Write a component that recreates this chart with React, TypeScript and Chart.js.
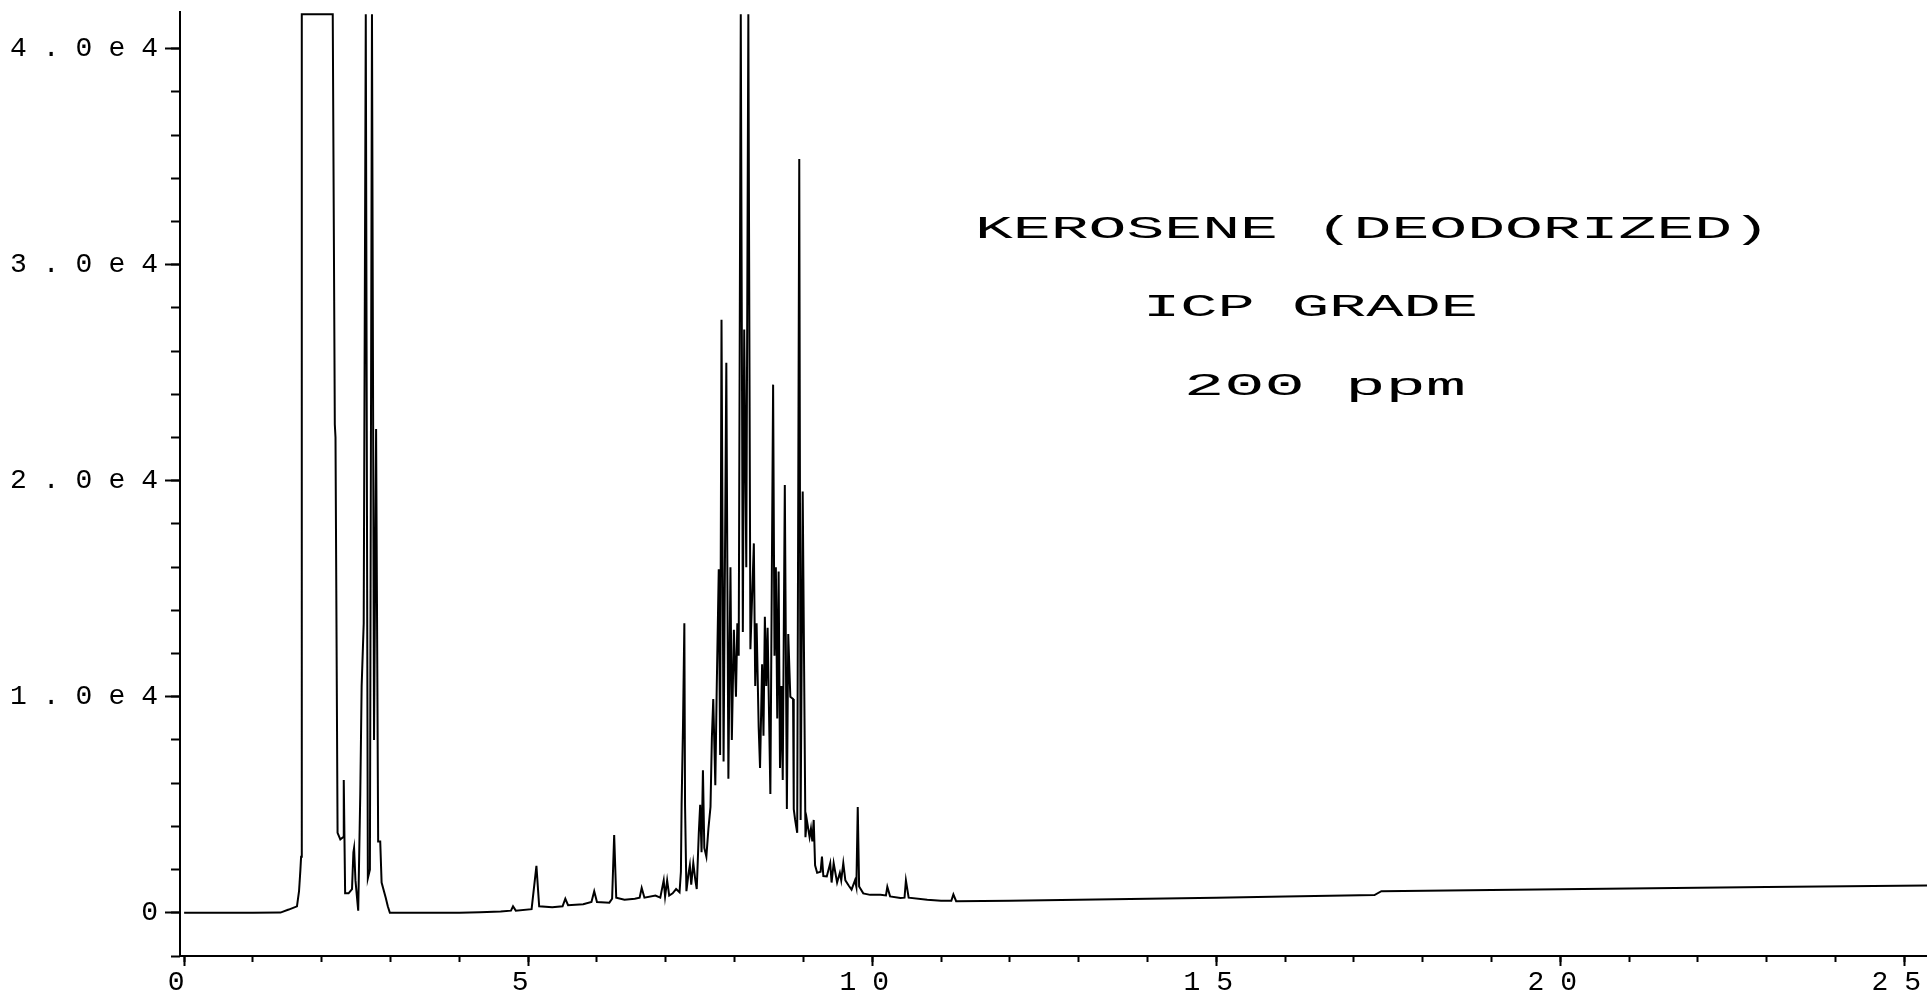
import React, { useEffect, useRef } from 'react';
import { Chart, registerables } from 'chart.js';

Chart.register(...registerables);

// Retention time (min)
const times = [
  0, 1.0, 1.40, 1.52, 1.64, 1.67, 1.69, 1.70, 1.71, 2.16, 2.19, 2.20, 2.23, 2.27, 2.31, 2.32,
  2.34, 2.39, 2.44, 2.46, 2.47, 2.49, 2.53, 2.56, 2.58, 2.61, 2.64, 2.67, 2.70, 2.73, 2.76, 2.79,
  2.82, 2.85, 2.87, 2.93, 2.96, 2.99, 4.0, 4.3, 4.6, 4.75, 4.78, 4.82, 5.05, 5.12, 5.16, 5.35,
  5.5, 5.54, 5.58, 5.8, 5.92, 5.96, 6.0, 6.18, 6.22, 6.25, 6.28, 6.4, 6.55, 6.62, 6.65, 6.69,
  6.85, 6.92, 6.97, 6.99, 7.02, 7.05, 7.10, 7.15, 7.20, 7.22, 7.23, 7.25, 7.27, 7.28, 7.30, 7.33,
  7.35, 7.37, 7.40, 7.43, 7.45, 7.48, 7.50, 7.52, 7.54, 7.56, 7.59, 7.62, 7.65, 7.67, 7.69, 7.72,
  7.74, 7.77, 7.79, 7.81, 7.84, 7.88, 7.91, 7.94, 7.96, 7.99, 8.02, 8.04, 8.06, 8.09, 8.12, 8.14,
  8.17, 8.20, 8.23, 8.28, 8.30, 8.32, 8.35, 8.37, 8.40, 8.42, 8.44, 8.46, 8.48, 8.52, 8.56, 8.58,
  8.60, 8.62, 8.64, 8.66, 8.68, 8.70, 8.73, 8.76, 8.78, 8.81, 8.85, 8.86, 8.88, 8.91, 8.94, 8.96,
  8.99, 9.03, 9.05, 9.09, 9.11, 9.13, 9.15, 9.17, 9.20, 9.25, 9.27, 9.29, 9.34, 9.39, 9.41, 9.44,
  9.49, 9.53, 9.55, 9.58, 9.61, 9.66, 9.70, 9.75, 9.77, 9.79, 9.81, 9.87, 9.97, 10.12, 10.20, 10.22,
  10.26, 10.41, 10.47, 10.49, 10.53, 10.8, 11.0, 11.15, 11.18, 11.22, 12.0, 13.0, 14.0, 15.0, 16.0, 17.3,
  17.4, 19.0, 21.0, 23.0, 25.33,
];

// Detector signal (counts)
const signal = [
  0, 0, 10, 150, 300, 1000, 2000, 2600, 41600, 41600, 22600, 22000, 3700, 3400, 3500, 6150,
  900, 900, 1100, 2800, 3000, 1500, 100, 5500, 10500, 13400, 41600, 1600, 2000, 41600, 8000, 22400,
  3300, 3300, 1400, 700, 300, 0, 0, 30, 60, 100, 300, 100, 170, 2170, 300, 260,
  300, 650, 350, 400, 500, 1000, 500, 470, 650, 3600, 700, 600, 650, 700, 1150, 700,
  800, 700, 1500, 750, 1500, 800, 900, 1100, 950, 1900, 5000, 8600, 13400, 5000, 1000, 1800,
  2200, 1300, 2300, 1500, 1100, 3700, 5000, 2800, 6600, 3000, 2600, 3900, 4900, 8100, 9900, 5900,
  10300, 15900, 7300, 27450, 7000, 25460, 6200, 16000, 8000, 13100, 10000, 13400, 11900, 41600, 13000, 27000,
  16000, 41600, 12200, 17100, 10500, 13400, 8600, 6700, 11500, 8200, 13700, 10500, 13200, 5500, 24450, 11900,
  16000, 9000, 15800, 6700, 10500, 6150, 19800, 4800, 12900, 10000, 9900, 4800, 4300, 3700, 34900, 4300,
  19500, 3500, 4300, 3500, 3900, 3300, 4300, 2200, 1850, 1900, 2600, 1700, 1680, 2300, 1400, 2300,
  1400, 1850, 1500, 2300, 1500, 1250, 1070, 1500, 1200, 4900, 1220, 900, 830, 830, 800, 1200,
  760, 680, 700, 1500, 700, 600, 560, 560, 850, 540, 560, 600, 650, 700, 760, 820,
  1000, 1050, 1120, 1190, 1260,
];

const xMajorTicks = [0, 5, 10, 15, 20, 25];
const xTickLabels = ['0', '5', '10', '15', '20', '25'];
const xMinorTicks = [
  0, 1, 2, 3, 4, 5, 6, 7, 8, 9, 10, 11, 12, 13, 14, 15, 16, 17, 18, 19, 20, 21, 22, 23, 24, 25,
];
const yMajorTicks = [0, 10000, 20000, 30000, 40000];
const yTickLabels = ['0', '1.0e4', '2.0e4', '3.0e4', '4.0e4'];
const yMinorTicks = [
  -2000, 0, 2000, 4000, 6000, 8000, 10000, 12000, 14000, 16000, 18000, 20000,
  22000, 24000, 26000, 28000, 30000, 32000, 34000, 36000, 38000, 40000,
];
const annotationLines = ['KEROSENE (DEODORIZED)', 'ICP GRADE', '200 ppm'];

const X_MIN = -0.06;
const X_MAX = 25.33;
const Y_MIN = -2000;
const Y_MAX = 41700;

const FONT = '"Liberation Mono", "DejaVu Sans Mono", monospace';

// layout of the annotation text (pixels): left, right, baseline
const annotationBoxes = [
  { left: 975, right: 1770, base: 238 },
  { left: 1143, right: 1478, base: 316 },
  { left: 1184, right: 1466, base: 395 },
];

const spacingPlugin = {
  id: 'tickSpacing',
  beforeDraw(chart: any) {
    chart.ctx.letterSpacing = '16px';
  },
  afterDraw(chart: any) {
    chart.ctx.letterSpacing = '0px';
  },
};

const annotationPlugin = {
  id: 'annotationText',
  afterDraw(chart: any) {
    const ctx = chart.ctx;
    annotationLines.forEach((text, i) => {
      const b = annotationBoxes[i];
      ctx.save();
      ctx.letterSpacing = '0px';
      ctx.font = `32px ${FONT}`;
      ctx.fillStyle = '#000';
      ctx.textAlign = 'left';
      ctx.textBaseline = 'alphabetic';
      const w = ctx.measureText(text).width;
      const sx = (b.right - b.left) / w;
      ctx.translate(b.left, b.base);
      ctx.scale(sx, 1);
      ctx.fillText(text, 0, 0);
      ctx.restore();
    });
  },
};

const setTicks = (values: number[]) => (scale: any) => {
  scale.ticks = values.map((v) => ({ value: v }));
};

export default function App() {
  const ref = useRef<HTMLCanvasElement | null>(null);

  useEffect(() => {
    document.body.style.margin = '0';
    const canvas = ref.current;
    if (!canvas) return;
    const points = times.map((t, i) => ({ x: t, y: signal[i] }));
    const tickFont = { family: FONT, size: 28 };
    const tickGrid = (len: number) => ({
      display: true,
      drawOnChartArea: false,
      drawTicks: true,
      tickLength: len,
      tickWidth: 2,
      tickColor: '#000',
    });
    const chart = new Chart(canvas, {
      type: 'line',
      data: {
        datasets: [
          {
            data: points,
            borderColor: '#000',
            borderWidth: 2,
            pointRadius: 0,
            fill: false,
            tension: 0,
          },
        ],
      },
      options: {
        animation: false,
        responsive: false,
        events: [],
        layout: { padding: { top: 12, left: 0, right: 0, bottom: 0 }, autoPadding: false },
        plugins: {
          legend: { display: false },
          tooltip: { enabled: false },
          title: { display: false },
        },
        scales: {
          x: {
            type: 'linear',
            position: 'bottom',
            weight: 1,
            min: X_MIN,
            max: X_MAX,
            border: { display: true, color: '#000', width: 2 },
            grid: tickGrid(10),
            afterBuildTicks: setTicks(xMajorTicks),
            ticks: {
              autoSkip: false,
              maxRotation: 0,
              minRotation: 0,
              padding: 0,
              color: '#000',
              font: tickFont,
              callback: (v: any) => {
                const i = xMajorTicks.indexOf(Number(v));
                return i >= 0 ? xTickLabels[i] : '';
              },
            },
            afterFit: (s: any) => { s.height = 40; },
          },
          x2: {
            type: 'linear',
            position: 'bottom',
            weight: 0,
            min: X_MIN,
            max: X_MAX,
            border: { display: false },
            grid: tickGrid(6),
            afterBuildTicks: setTicks(xMinorTicks),
            ticks: { autoSkip: false, maxRotation: 0, callback: () => '' },
            afterFit: (s: any) => { s.height = 0; },
          },
          y: {
            type: 'linear',
            position: 'left',
            weight: 1,
            min: Y_MIN,
            max: Y_MAX,
            border: { display: true, color: '#000', width: 2 },
            grid: tickGrid(15),
            afterBuildTicks: setTicks(yMajorTicks),
            ticks: {
              autoSkip: false,
              padding: -9,
              color: '#000',
              font: tickFont,
              callback: (v: any) => {
                const i = yMajorTicks.indexOf(Number(v));
                return i >= 0 ? yTickLabels[i] : '';
              },
            },
            afterFit: (s: any) => { s.width = 180; },
          },
          y2: {
            type: 'linear',
            position: 'left',
            weight: 0,
            min: Y_MIN,
            max: Y_MAX,
            border: { display: false },
            grid: tickGrid(9),
            afterBuildTicks: setTicks(yMinorTicks),
            ticks: { autoSkip: false, callback: () => '' },
            afterFit: (s: any) => { s.width = 0; },
          },
        },
      } as any,
      plugins: [spacingPlugin, annotationPlugin],
    });
    return () => chart.destroy();
  }, []);

  return (
    <div style={{ position: 'fixed', left: 0, top: 0, width: 1927, height: 996, background: '#fff' }}>
      <canvas ref={ref} width={1927} height={996} style={{ display: 'block', width: 1927, height: 996 }} />
    </div>
  );
}
